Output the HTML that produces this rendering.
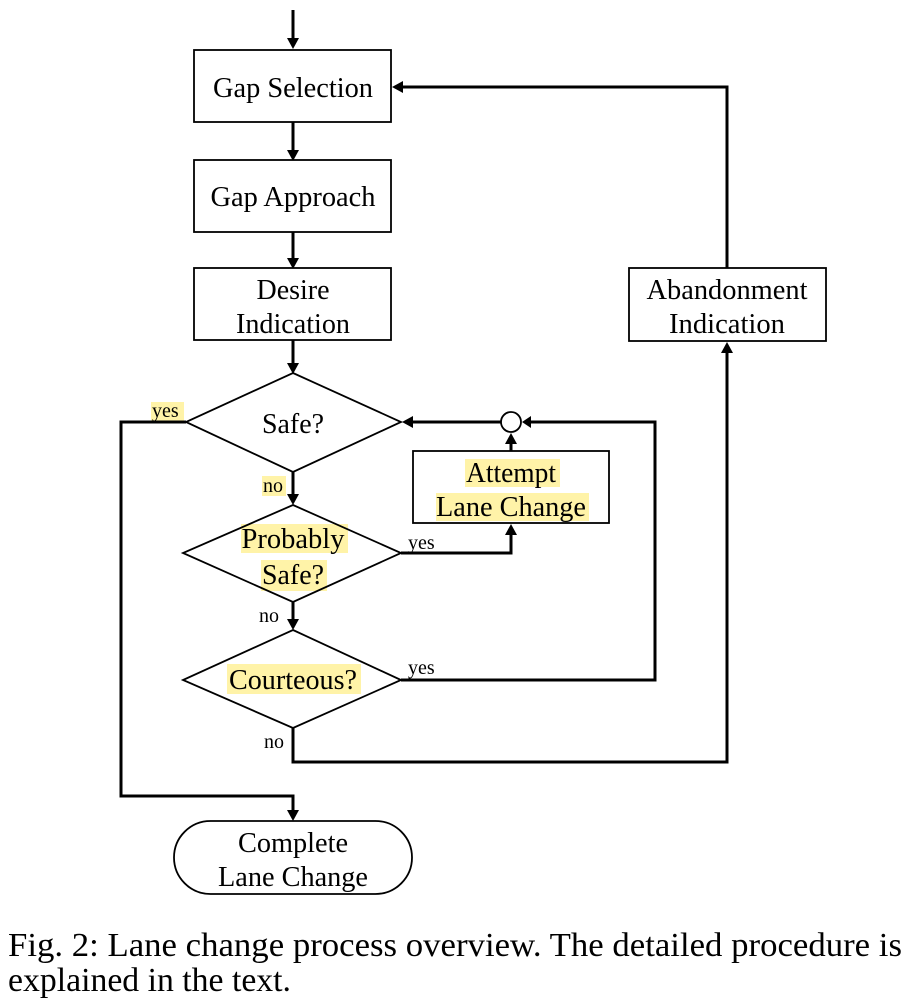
<!DOCTYPE html>
<html><head><meta charset="utf-8"><style>
html,body{margin:0;padding:0;background:#fff;}
svg{display:block;}
text{font-family:"Liberation Serif",serif;fill:#000;}
</style></head><body>
<svg width="912" height="1003" viewBox="0 0 912 1003" xmlns="http://www.w3.org/2000/svg">
<g fill="#fff3a8">
<rect x="151" y="402" width="33" height="19"/>
<rect x="262" y="476" width="24" height="20"/>
<rect x="241" y="524" width="107" height="29"/>
<rect x="261" y="560" width="66" height="31"/>
<rect x="227" y="664" width="134" height="30"/>
<rect x="465" y="459" width="95" height="28"/>
<rect x="436" y="493" width="153" height="28"/>
</g>
<g fill="none" stroke="#000" stroke-width="3">
<path d="M293 10V40"/>
<path d="M293 122V152"/>
<path d="M293 232V260"/>
<path d="M293 340V365"/>
<path d="M293 472V497"/>
<path d="M293 602V622"/>
<path d="M401 553H511V531"/>
<path d="M511 451V440"/>
<path d="M501 422H410"/>
<path d="M401 680H655V422H530"/>
<path d="M293 728V762H727V350"/>
<path d="M727 268V87H400"/>
<path d="M186 422H121V796H293V813"/>
</g>
<g fill="#000">
<path d="M287 38L293 49L299 38Z"/>
<path d="M287 150L293 161L299 150Z"/>
<path d="M287 258L293 269L299 258Z"/>
<path d="M287 363L293 374L299 363Z"/>
<path d="M287 494L293 505L299 494Z"/>
<path d="M287 619L293 630L299 619Z"/>
<path d="M505 535L511 524L517 535Z"/>
<path d="M505 444L511 433L517 444Z"/>
<path d="M413 416L402 422L413 428Z"/>
<path d="M531 416L522 422L531 428Z"/>
<path d="M721 353L727 342L733 353Z"/>
<path d="M403 81L392 87L403 93Z"/>
<path d="M287 810L293 821L299 810Z"/>
</g>
<g fill="#fff" stroke="#000" stroke-width="1.8">
<rect x="194" y="50" width="197" height="72"/>
<rect x="194" y="160" width="197" height="72"/>
<rect x="194" y="268" width="197" height="72"/>
<rect x="629" y="268" width="197" height="73"/>
<rect x="413" y="451" width="196" height="72" fill="none"/>
<path d="M293 373L401 422L293 472L186 422Z" fill="none"/>
<path d="M293 505L401 553L293 602L183 553Z" fill="none"/>
<path d="M293 630L401 680L293 728L183 680Z" fill="none"/>
<circle cx="511" cy="422" r="10"/>
<rect x="174" y="821" width="238" height="73" rx="36.5"/>
</g>
<g font-size="28" text-anchor="middle">
<text x="293" y="97" textLength="160" lengthAdjust="spacingAndGlyphs">Gap Selection</text>
<text x="293" y="206" textLength="165" lengthAdjust="spacingAndGlyphs">Gap Approach</text>
<text x="293" y="299" textLength="73" lengthAdjust="spacingAndGlyphs">Desire</text>
<text x="293" y="333" textLength="114" lengthAdjust="spacingAndGlyphs">Indication</text>
<text x="727" y="299" textLength="161" lengthAdjust="spacingAndGlyphs">Abandonment</text>
<text x="727" y="333" textLength="116" lengthAdjust="spacingAndGlyphs">Indication</text>
<text x="293" y="433" textLength="62" lengthAdjust="spacingAndGlyphs">Safe?</text>
<text x="293" y="548" textLength="103" lengthAdjust="spacingAndGlyphs">Probably</text>
<text x="293" y="584" textLength="62" lengthAdjust="spacingAndGlyphs">Safe?</text>
<text x="293" y="689" textLength="128" lengthAdjust="spacingAndGlyphs">Courteous?</text>
<text x="511" y="482" textLength="90" lengthAdjust="spacingAndGlyphs">Attempt</text>
<text x="511" y="516" textLength="150" lengthAdjust="spacingAndGlyphs">Lane Change</text>
<text x="293" y="852" textLength="110" lengthAdjust="spacingAndGlyphs">Complete</text>
<text x="293" y="886" textLength="150" lengthAdjust="spacingAndGlyphs">Lane Change</text>
</g>
<g font-size="20">
<text x="152" y="417">yes</text>
<text x="263" y="492">no</text>
<text x="259" y="622">no</text>
<text x="264" y="748">no</text>
<text x="408" y="549">yes</text>
<text x="408" y="674">yes</text>
</g>
<text x="8" y="956" font-size="34" textLength="894" lengthAdjust="spacingAndGlyphs">Fig. 2: Lane change process overview. The detailed procedure is</text>
<text x="8" y="991" font-size="34" textLength="283" lengthAdjust="spacingAndGlyphs">explained in the text.</text>
</svg>
</body></html>
